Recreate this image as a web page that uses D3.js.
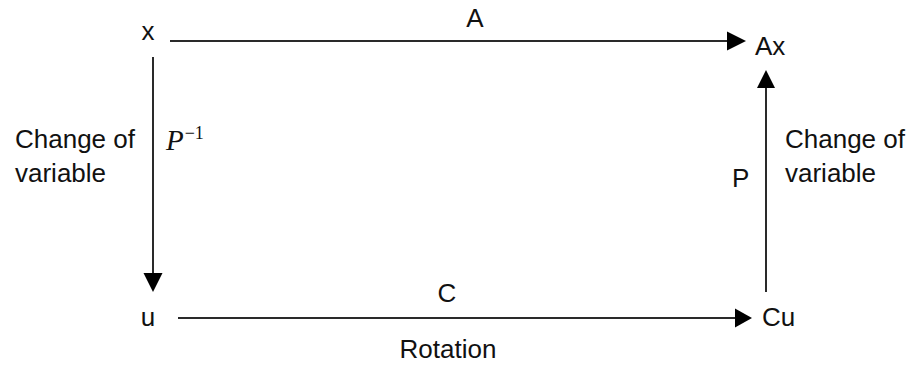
<!DOCTYPE html>
<html>
<head>
<meta charset="utf-8">
<script src="https://cdn.jsdelivr.net/npm/d3@7/dist/d3.min.js"></script>
<style>
  html, body { margin: 0; padding: 0; background: #fff; }
  svg { display: block; }
</style>
</head>
<body>
<svg id="chart" width="910" height="365"></svg>
<script>
// ---- data ----
const nodeNames = ["x", "Ax", "u", "Cu"];
const nodeCols  = [0, 1, 0, 1];
const nodeRows  = [0, 0, 1, 1];

const edgeFrom   = ["x", "u", "x", "Cu"];
const edgeTo     = ["Ax", "Cu", "u", "Ax"];
const edgeLabels = ["A", "C", "P", "P"];
const edgeNotes  = ["", "Rotation", "Change of|variable", "Change of|variable"];

// ---- layout ----
const svg = d3.select("#chart");
const SANS = "'Liberation Sans', Arial, sans-serif";
const SERIF = "'Liberation Serif', 'Times New Roman', serif";
const xScale = d3.scaleLinear().domain([0, 1]).range([153, 766]);
const yScale = d3.scaleLinear().domain([0, 1]).range([41, 318]);
const node = name => {
  const i = nodeNames.indexOf(name);
  return { x: xScale(nodeCols[i]), y: yScale(nodeRows[i]) };
};
const FS = 26;
const txt = (x, y, s, anchor) => svg.append("text")
  .attr("x", x).attr("y", y)
  .attr("text-anchor", anchor || "start")
  .style("font-family", SANS).style("font-size", FS + "px")
  .style("fill", "#111")
  .text(s);

// node labels
const nodeLabelPos = {
  "x":  { dx: -5, dy: -1, anchor: "middle" },
  "Ax": { dx: -11, dy: 14, anchor: "start" },
  "u":  { dx: -5, dy: 8, anchor: "middle" },
  "Cu": { dx: -4, dy: 8, anchor: "start" }
};
nodeNames.forEach(n => {
  const p = node(n), o = nodeLabelPos[n];
  txt(p.x + o.dx, p.y + o.dy, n, o.anchor);
});

// edges
const lineColor = "#2a2a2a";
function arrow(x1, y1, x2, y2, len, half) {
  const ang = Math.atan2(y2 - y1, x2 - x1);
  const bx = x2 - len * Math.cos(ang), by = y2 - len * Math.sin(ang);
  svg.append("line")
    .attr("x1", x1).attr("y1", y1).attr("x2", bx).attr("y2", by)
    .attr("stroke", lineColor).attr("stroke-width", 2);
  const px = -Math.sin(ang) * half, py = Math.cos(ang) * half;
  svg.append("path")
    .attr("d", `M${x2},${y2}L${bx + px},${by + py}L${bx - px},${by - py}Z`)
    .attr("fill", "#000");
}

edgeFrom.forEach((f, i) => {
  const a = node(f), b = node(edgeTo[i]);
  const lab = edgeLabels[i];
  const notes = edgeNotes[i] ? edgeNotes[i].split("|") : [];
  if (a.y === b.y) {
    const top = a.y === yScale(0);
    const x1 = a.x + (top ? 17 : 25);
    const x2 = b.x - (top ? 20 : 14);
    arrow(x1, a.y, x2, a.y, top ? 19 : 17, 9.5);
    const cx = top ? 475 : 447;
    txt(cx, a.y - (top ? 14 : 16), lab, "middle");
    notes.forEach((t, k) => txt(448, a.y + 40 + k * 34, t, "middle"));
  } else {
    const down = b.y > a.y;
    if (down) {
      arrow(a.x, a.y + 16, b.x, b.y - 26, 19, 9.5);
      // P^-1 : italic serif P with superscript -1, one text element
      const t = svg.append("text")
        .attr("x", a.x + 13).attr("y", 150)
        .style("font-family", SERIF).style("fill", "#111");
      t.append("tspan")
        .style("font-style", "italic").style("font-size", "29px")
        .text(lab);
      t.append("tspan")
        .attr("dx", 1).attr("dy", -11)
        .style("font-size", "18px")
        .text("\u22121");
      notes.forEach((s, k) => txt(15, 148 + k * 34, s));
    } else {
      arrow(a.x, a.y - 26, b.x, b.y + 29, 18, 9);
      txt(a.x - 34, 187, lab);
      notes.forEach((s, k) => txt(a.x + 19, 148 + k * 34, s));
    }
  }
});
</script>
</body>
</html>
